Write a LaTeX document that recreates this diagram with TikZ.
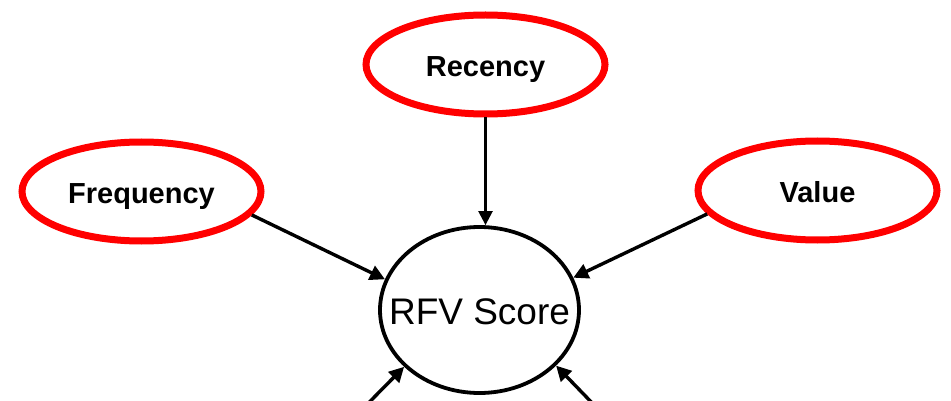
\documentclass[tikz,border=0pt]{standalone}
\usepackage{fontspec}
\setmainfont{Liberation Sans}
\usetikzlibrary{shapes.geometric,arrows.meta}

\tikzset{
  factor/.style={ellipse, draw=red, line width=7pt, fill=white,
    minimum width=239pt, minimum height=99pt, inner sep=0pt,
    font=\fontsize{29}{34}\selectfont\bfseries,
    text height=23.5pt, text depth=0pt},
  score/.style={ellipse, draw=black, line width=3.8pt, fill=white,
    minimum width=199pt, minimum height=166pt,
    inner xsep=-25pt, inner ysep=0pt,
    font=\fontsize{37}{44}\selectfont,
    text height=28.5pt, text depth=0pt},
  link/.style={draw=black, line width=3.4pt,
    -{Triangle[length=15pt,width=15pt]}},
  thinlink/.style={draw=black, line width=2.4pt,
    -{Triangle[length=14pt,width=14pt]}}
}

\begin{document}
\begin{tikzpicture}[x=1pt,y=-1pt]
  \clip (0,0) rectangle (951,401);
  \fill[white] (0,0) rectangle (951,401);

  % the three input factors and the combined score
  \node[factor] (rec) at (485.5,64.5) {Recency};
  \node[factor] (freq) at (141.5,191.5) {Frequency};
  \node[factor] (val) at (817.5,190.5) {Value};
  \node[score] (rfv) at (479.5,310) {RFV Score};

  % loose ends of the two arrows that enter from below
  \coordinate (bl) at (335,437);
  \coordinate (br) at (625,437);

  \draw[thinlink] (rec.south) -- (rec.south |- rfv.north);
  \draw[link] (freq.-12) -- (rfv.162);
  \draw[link] (val.-168) -- (rfv.19);
  \draw[link] (bl) -- (rfv.217);
  \draw[link] (br) -- (rfv.-36);
\end{tikzpicture}
\end{document}
